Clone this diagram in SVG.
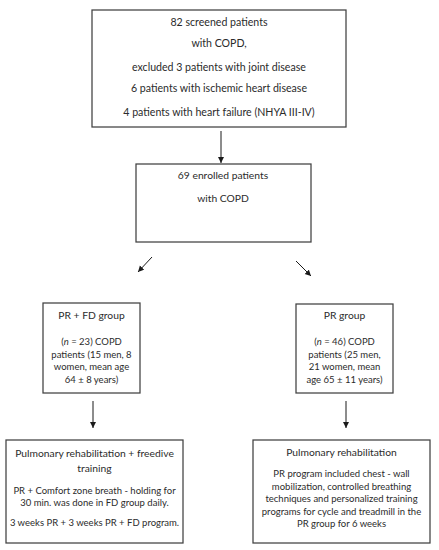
<svg xmlns="http://www.w3.org/2000/svg" width="439" height="550" viewBox="0 0 439 550">
<defs>
<style>
.box{fill:#fff;stroke:#404040;stroke-width:1.25}
.t{font-family:Lato,"Liberation Sans",Arial,sans-serif;fill:#2b2b2b;text-anchor:middle}
.big{font-size:10.6px}
.hd{font-size:10.3px}
.bd{font-size:9.5px}
.c{stroke:#1a1a1a;stroke-width:1;fill:none;marker-end:url(#ah)}
</style>
<marker id="ah" markerUnits="userSpaceOnUse" markerWidth="8" markerHeight="8" refX="6" refY="3" orient="auto">
<path d="M0,0 L6,3 L0,6 Z" fill="#1a1a1a"/>
</marker>
</defs>
<rect width="439" height="550" fill="#fff"/>
<g id="screened">
<rect class="box" x="92" y="10" width="254" height="117"/>
<text class="t big" x="219" y="25.5">82 screened patients</text>
<text class="t big" x="219" y="47">with COPD,</text>
<text class="t big" x="219" y="70.5">excluded 3 patients with joint disease</text>
<text class="t big" x="219" y="92">6 patients with ischemic heart disease</text>
<text class="t big" x="219" y="115.5">4 patients with heart failure (NHYA III-IV)</text>
</g>
<g id="enrolled">
<rect class="box" x="136" y="164" width="175" height="78"/>
<text class="t hd" x="223" y="179">69 enrolled patients</text>
<text class="t hd" x="223" y="202">with COPD</text>
</g>
<g id="prfd">
<rect class="box" x="43" y="303" width="97" height="90"/>
<text class="t hd" x="91.5" y="319">PR + FD group</text>
<text class="t bd" x="91.5" y="345">(<tspan font-style="italic">n</tspan> = 23) COPD</text>
<text class="t bd" x="91.5" y="357.5">patients (15 men, 8</text>
<text class="t bd" x="91.5" y="370">women, mean age</text>
<text class="t bd" x="91.5" y="382.5">64 ± 8 years)</text>
</g>
<g id="pr">
<rect class="box" x="296" y="304" width="97" height="89"/>
<text class="t hd" x="344.5" y="319">PR group</text>
<text class="t bd" x="344.5" y="345">(<tspan font-style="italic">n</tspan> = 46) COPD</text>
<text class="t bd" x="344.5" y="357.5">patients (25 men,</text>
<text class="t bd" x="344.5" y="370">21 women, mean</text>
<text class="t bd" x="344.5" y="382.5">age 65 ± 11 years)</text>
</g>
<g id="prfd-training">
<rect class="box" x="6" y="440" width="177" height="103"/>
<text class="t hd" x="94.5" y="457">Pulmonary rehabilitation + freedive</text>
<text class="t hd" x="94.5" y="472">training</text>
<text class="t bd" x="94.5" y="494">PR + Comfort zone breath - holding for</text>
<text class="t bd" x="94.5" y="506">30 min. was done in FD group daily.</text>
<text class="t bd" x="94.5" y="526">3 weeks PR + 3 weeks PR + FD program.</text>
</g>
<g id="pr-training">
<rect class="box" x="253" y="440" width="177" height="103"/>
<text class="t hd" x="341.5" y="456">Pulmonary rehabilitation</text>
<text class="t bd" x="341.5" y="477">PR program included chest - wall</text>
<text class="t bd" x="341.5" y="489.5">mobilization, controlled breathing</text>
<text class="t bd" x="341.5" y="502">techniques and personalized training</text>
<text class="t bd" x="341.5" y="514.5">programs for cycle and treadmill in the</text>
<text class="t bd" x="341.5" y="527">PR group for 6 weeks</text>
</g>
<g id="connectors">
<line class="c" x1="221" y1="131" x2="221" y2="163"/>
<line class="c" x1="152" y1="257" x2="138" y2="272"/>
<line class="c" x1="296" y1="261" x2="311" y2="276"/>
<line class="c" x1="93" y1="401" x2="93" y2="428"/>
<line class="c" x1="346" y1="401" x2="346" y2="428"/>
</g>
</svg>
